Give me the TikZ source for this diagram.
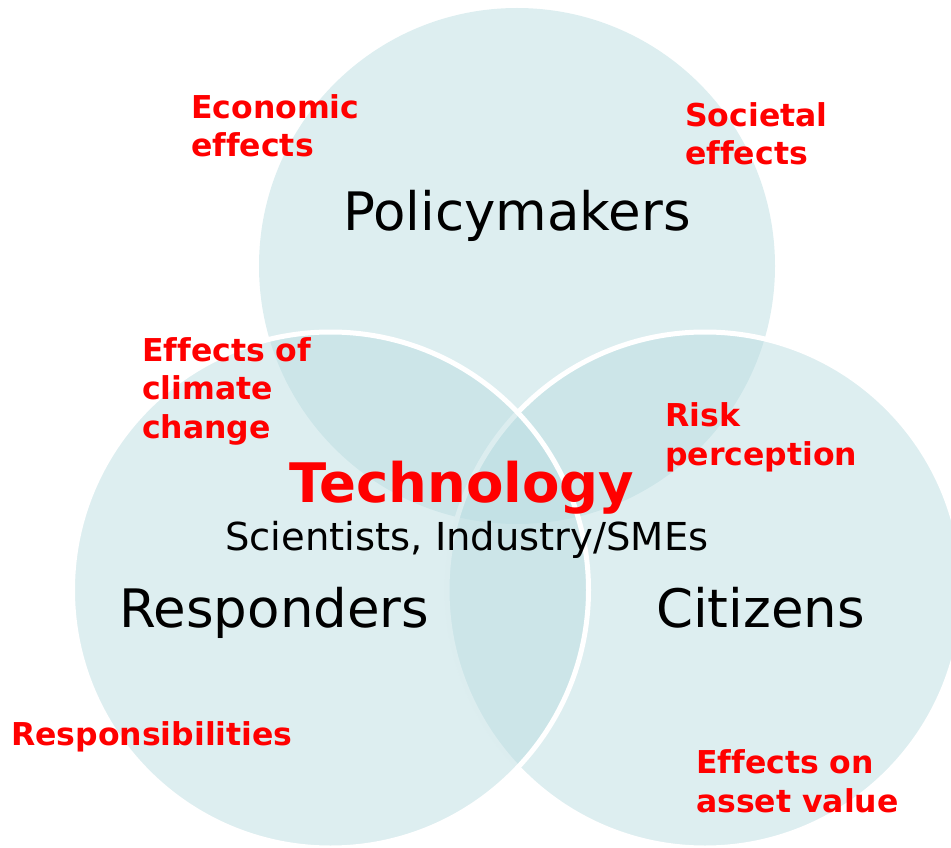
\documentclass[tikz,border=0pt]{standalone}
\usepackage{fontspec}
\setmainfont[Ligatures=NoCommon]{DejaVu Sans}
\definecolor{venn}{HTML}{BBDDE1}
\definecolor{lab}{HTML}{FF0000}
\begin{document}
\begin{tikzpicture}[x=1pt,y=-1pt,
  circ/.style={fill=venn,fill opacity=0.5},
  circb/.style={circ,draw=white,line width=5pt},
  redlab/.style={inner sep=0pt,anchor=base west,align=left,text=lab,font=\bfseries\fontsize{31.5}{38.5}\selectfont},
  bigname/.style={inner sep=0pt,anchor=base west,font=\fontsize{53}{60}\selectfont}]
\useasboundingbox (0,0) rectangle (951,848);
\fill[circ] (517,266) circle (258);
\filldraw[circb] (705,590) circle (258);
\filldraw[circb] (330.5,590) circle (258);
\node[redlab] (econ) at (191,157) {Economic\\effects};
\node[redlab] (soc) at (685,165) {Societal\\effects};
\node[bigname] (policy) at (343,230) {Policymakers};
\node[redlab] (climate) at (142,438) {Effects of\\climate\\change};
\node[redlab] (risk) at (665,465) {Risk\\perception};
\node[bigname,text=lab,font=\bfseries\fontsize{54.5}{60}\selectfont] (tech) at (289,502) {Technology};
\node[inner sep=0pt,anchor=base west,font=\fontsize{38.5}{46}\selectfont] (sci) at (225,550) {Scientists, Industry/SMEs};
\node[bigname] (resp) at (119,627) {Responders};
\node[bigname] (cit) at (656,627) {Citizens};
\node[redlab] (respons) at (11,745) {Responsibilities};
\node[redlab] (asset) at (696,812) {Effects on\\asset value};
\end{tikzpicture}
\end{document}
